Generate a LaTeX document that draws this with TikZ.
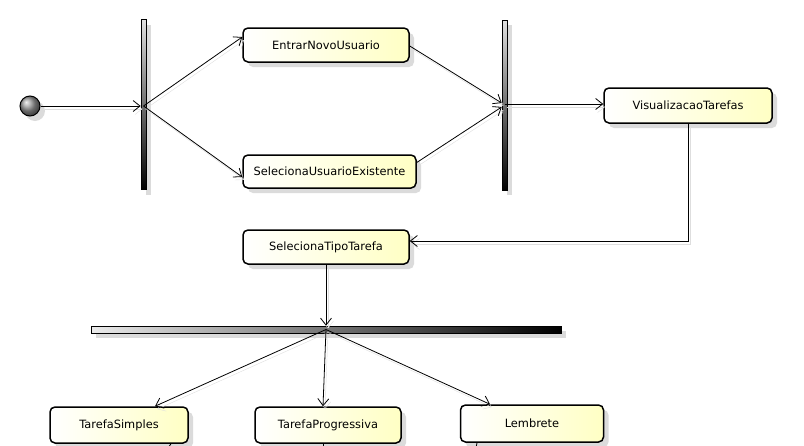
\documentclass[tikz,border=0pt]{standalone}
\usepackage{fontspec}
\setmainfont{DejaVu Sans}
\usetikzlibrary{arrows.meta,shadows,calc}
\definecolor{actyellow}{RGB}{255,255,196}

\begin{document}
\begin{tikzpicture}[x=1pt,y=-1pt,
  softshadow/.style={general shadow={fill=black!14, shadow xshift=5pt, shadow yshift=-5pt}},
  action/.style={draw, line width=1.5pt, rounded corners=5pt, left color=white,
    right color=actyellow, minimum height=34pt, inner sep=0pt,
    font=\fontsize{11.4}{13}\selectfont, softshadow},
  vbar/.style={draw, line width=0.6pt, inner sep=0pt, minimum width=5pt,
    minimum height=170pt, top color=black!12, bottom color=black, softshadow},
  hbar/.style={draw, line width=0.6pt, inner sep=0pt, minimum width=470pt,
    minimum height=7pt, left color=black!8, right color=black, softshadow},
  conn/.style={line width=0.8pt, -{Straight Barb[length=7pt,width=11pt]},
    preaction={draw=black!13, transform canvas={shift={(2pt,-3pt)}}}},
  plain/.style={line width=0.8pt,
    preaction={draw=black!13, transform canvas={shift={(2pt,-3pt)}}}}
]
\useasboundingbox (0,0) rectangle (804,445);

% initial state
\node (init) [circle, draw, line width=1pt, minimum size=20pt, inner sep=0pt,
  ball color=black!40, softshadow] at (30,106) {};

% fork / join bars
\node (bar1) [vbar] at (143.5,104.5) {};
\node (bar2) [vbar] at (504.5,105) {};
\node (bar3) [hbar] at (326,329.5) {};

% actions
\node (entrar) [action, minimum width=166pt] at (326,45) {EntrarNovoUsuario};
\node (selec) [action, minimum width=173pt, minimum height=33pt] at (329.5,171.5) {SelecionaUsuarioExistente};
\node (visual) [action, minimum width=168pt, minimum height=35pt] at (688,105.5) {VisualizacaoTarefas};
\node (tipo) [action, minimum width=166pt] at (326,247) {SelecionaTipoTarefa};
\node (simples) [action, minimum width=138pt, minimum height=36pt] at (119,425) {TarefaSimples};
\node (progr) [action, minimum width=146pt, minimum height=36pt] at (328,425) {TarefaProgressiva};
\node (lembr) [action, minimum width=143pt, minimum height=37pt] at (532,423.5) {Lembrete};

% transitions
\draw[conn] (init.east) -- (init -| bar1.west);
\draw[conn] ($(bar1.center)+(0,1.5)$) -- ($(entrar.west)+(0,-8)$);
\draw[conn] ($(bar1.center)+(0,1.5)$) -- ($(selec.west)+(0,5.5)$);
\draw[conn] ($(entrar.east)+(0,1)$) -- ($(bar2.west)+(0,-2)$);
\draw[conn] ($(selec.east)+(0,-9)$) -- ($(bar2.west)+(0,2)$);
\draw[conn] ($(bar2.center)+(0,-1)$) -- ($(visual.west)+(0,-1.5)$);
\draw[conn] (visual.south) |- ($(tipo.east)+(0,-6)$);
\draw[conn] (tipo.south) -- (bar3.north);
\draw[conn] (bar3.center) -- ($(simples.north)+(36,0)$);
\draw[conn] (bar3.center) -- ($(progr.north)+(-5,0)$);
\draw[conn] (bar3.center) -- ($(lembr.north)+(-42,0)$);

% outgoing transitions leaving the lower edge
\coordinate (out1) at (168,448);
\coordinate (out2) at (323,448);
\coordinate (out3) at (476,448);
\draw[plain] ($(simples.south)+(52,0)$) -- (out1);
\draw[plain] ($(progr.south)+(-5,0)$) -- (out2);
\draw[plain] ($(lembr.south)+(-55,0)$) -- (out3);
\end{tikzpicture}
\end{document}
